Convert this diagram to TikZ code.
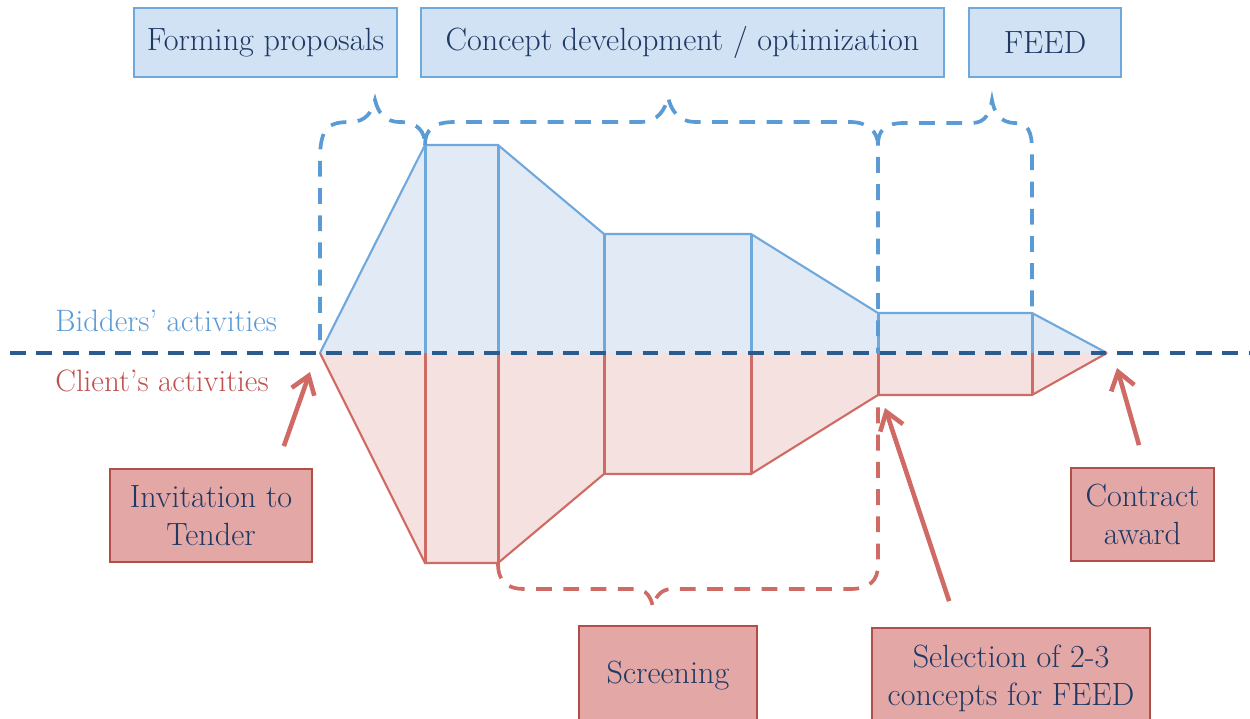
\documentclass[tikz,border=0pt]{standalone}
\usepackage{fontspec}
\usepackage{xcolor}
\definecolor{mainDark}{HTML}{1F3864}
\definecolor{bidLine}{HTML}{6FA8DC}
\definecolor{bidFill}{HTML}{E2EBF5}
\definecolor{bidBox}{HTML}{D0E2F3}
\definecolor{bidBrace}{HTML}{5B9BD5}
\definecolor{axisColor}{HTML}{2B5C8F}
\definecolor{cliLine}{HTML}{D06A64}
\definecolor{cliFill}{HTML}{F5E1E0}
\definecolor{cliBox}{HTML}{E3A8A6}
\definecolor{cliBorder}{HTML}{B24E48}
\definecolor{cliText}{HTML}{C0504D}
\usepackage{tikz}
\usetikzlibrary{positioning,calc,arrows.meta}
\newcommand{\boxFont}{\fontsize{18.3}{21.5}\selectfont}
\newcommand{\sideFont}{\fontsize{17.6}{21}\selectfont}
\tikzset{
  bidBoxStyle/.style={
    rectangle,
    draw=bidLine,
    line width=1pt,
    fill=bidBox,
    minimum height=1.38cm,
    inner sep=0pt,
    font=\boxFont,
    text=mainDark
 },
  cliBoxStyle/.style={
    rectangle,
    draw=cliBorder,
    line width=1pt,
    fill=cliBox,
    minimum height=1.86cm,
    inner sep=0pt,
    align=center,
    font=\boxFont,
    text=mainDark
 },
  braceLine/.style={
    dash pattern=on 9pt off 6.5pt,
    line width=2.1pt
 },
  arrowLine/.style={
    -{Straight Barb[length=3.4mm,width=4.8mm]},
    line width=2.6pt,
    color=cliLine
 }
}

\begin{document}
\begin{tikzpicture}[x=0.02cm, y=-0.02cm]
            \useasboundingbox (0,0) rectangle (1250,719);
            \clip (0,0) rectangle (1250,719);

            % funnel corners (top and bottom)
            \foreach \i/\x/\yt/\yb in {0/320/353/353, 1/425/145/563, 2/498/145/563, 3/604/234/474,
                                       4/751/234/474, 5/878/313/395, 6/1032/313/395, 7/1107/353/353} {
              \coordinate (top\i) at (\x,\yt);
              \coordinate (bot\i) at (\x,\yb);
            }

            % bidders' and client's halves
            \fill[bidFill] (top0) \foreach \i in {1,...,7} { -- (top\i) } -- cycle;
            \fill[cliFill] (bot0) \foreach \i in {1,...,7} { -- (bot\i) } -- cycle;
            \draw[bidLine, line width=1.2pt] (top0) \foreach \i in {1,...,7} { -- (top\i) };
            \draw[cliLine, line width=1.2pt] (bot0) \foreach \i in {1,...,7} { -- (bot\i) };
            \foreach \i in {1,...,6} {
              \draw[bidLine, line width=1.7pt] (top\i) -- (top\i |- top0);
              \draw[cliLine, line width=1.7pt] (bot\i) -- (bot\i |- bot0);
            }

            % dashed axis
            \coordinate (axisL) at (10,353);
            \coordinate (axisR) at (1250,353);
            \draw[axisColor, line width=2.2pt, dash pattern=on 9pt off 6pt] (axisL) -- (axisR);

            % blue braces on top
            \draw[braceLine, bidBrace] (320,340) -- (320,160) .. controls (320,128) and (328,122) .. (350,122)
              .. controls (366,122) and (372,112) .. (375,100) .. controls (378,112) and (384,122) .. (400,122)
              .. controls (418,122) and (425,132) .. (top1);
            \draw[braceLine, bidBrace] (top1) .. controls (425,130) and (433,122) .. (455,122) -- (640,122)
              .. controls (658,122) and (665,110) .. (668,97) .. controls (671,110) and (678,122) .. (696,122)
              -- (850,122) .. controls (868,122) and (878,132) .. (878,145) -- (878,353);
            \draw[braceLine, bidBrace] (878,145) .. controls (878,130) and (885,123) .. (905,123) -- (972,123)
              .. controls (986,123) and (990,112) .. (992,100) .. controls (994,112) and (1000,123) .. (1015,123)
              .. controls (1028,123) and (1032,132) .. (1032,150) -- (top6);

            % red brace below
            \draw[braceLine, cliLine] (bot2) .. controls (498,580) and (505,589) .. (525,589) -- (635,589)
              .. controls (647,589) and (651,598) .. (653,607) .. controls (655,598) and (660,589) .. (672,589)
              -- (850,589) .. controls (870,589) and (878,580) .. (878,565) -- (bot5);

            % side labels
            \node[anchor=base west, text=bidBrace, font=\sideFont, inner sep=0pt] (bidLabel) at (55,332) {Bidders' activities};
            \node[anchor=base west, text=cliText, font=\sideFont, inner sep=0pt] (cliLabel) at (55,391) {Client's activities};

            % phases on top
            \node[bidBoxStyle, minimum width=5.26cm] (forming) at (265.5,42.5) {Forming proposals};
            \node[bidBoxStyle, minimum width=10.46cm] (concept) at (682.5,42.5) {Concept development / optimization};
            \node[bidBoxStyle, minimum width=3.04cm] (feed) at (1045,42.5) {FEED};

            % client's milestones
            \node[cliBoxStyle, minimum width=4.04cm] (itt) at (211,515.5) {Invitation to\\Tender};
            \node[cliBoxStyle, minimum width=2.86cm] (award) at (1142.5,514.5) {Contract\\award};
            \node[cliBoxStyle, minimum width=3.56cm, minimum height=2cm] (screen) at (668,676) {Screening};
            \node[cliBoxStyle, minimum width=5.56cm, minimum height=2cm] (select) at (1011,678) {Selection of 2-3\\concepts for FEED};

            % arrows to the funnel
            \draw[arrowLine] ($(itt.north east)+(-29,-22)$) -- ($(top0)+(-10,19)$);
            \draw[arrowLine] ($(select.north west)+(78,-26)$) -- ($(bot5)+(7,13)$);
            \draw[arrowLine] ($(award.north)+(-3.5,-22)$) -- ($(top7)+(10,15)$);

        \end{tikzpicture}
\end{document}
